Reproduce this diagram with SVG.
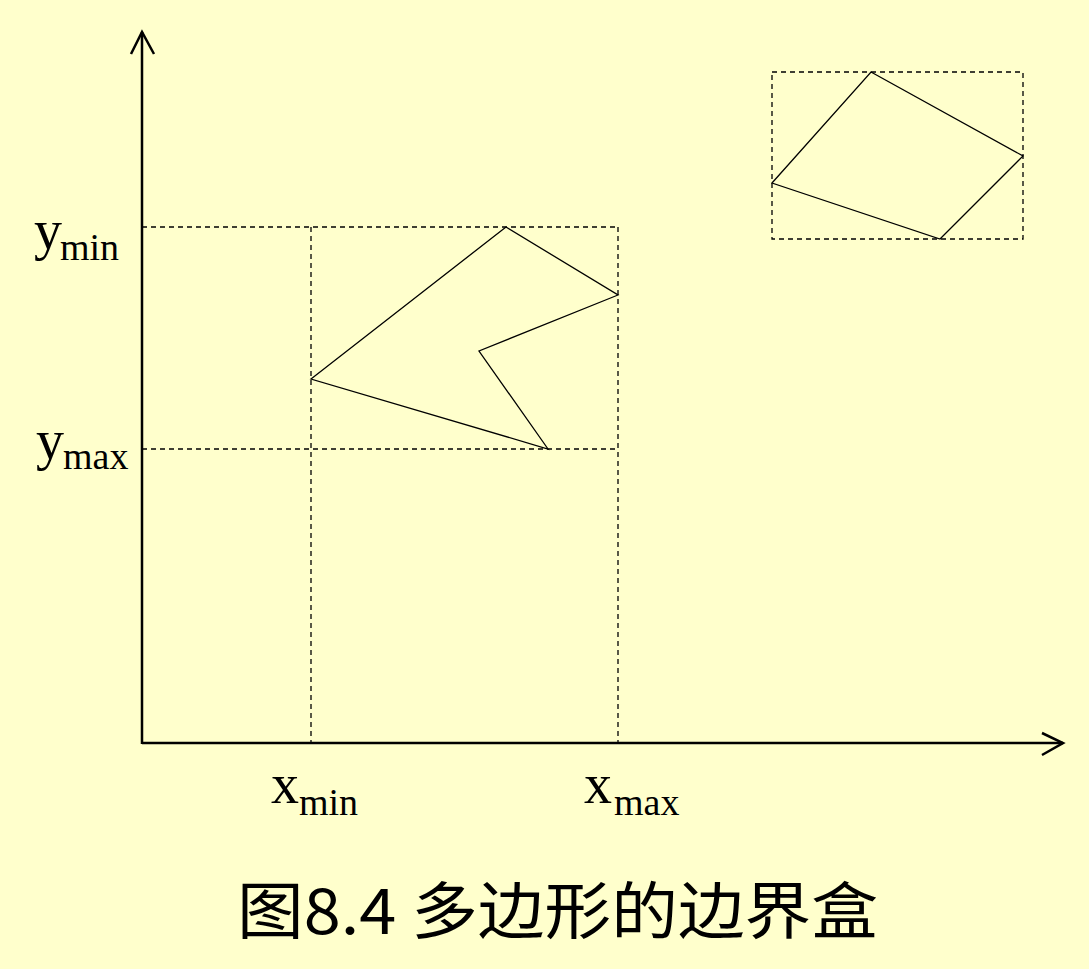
<svg xmlns="http://www.w3.org/2000/svg" width="1089" height="969" viewBox="0 0 1089 969">
<style>
.ax{stroke:#000;stroke-width:2.5;fill:none}
.dash{stroke:#000;stroke-width:1.3;stroke-dasharray:5 4;fill:none}
.poly{stroke:#000;stroke-width:1.3;fill:none}
.lbl{font-family:"Liberation Serif",serif;fill:#000}
.big{font-size:56px}
.sub{font-size:38px}
.title{font-family:"Noto Sans CJK SC",sans-serif;font-size:62px;fill:#000}
</style>
<rect width="1089" height="969" fill="#FFFFCC"/>
<g id="connectors">
<line class="ax" x1="142" y1="744" x2="142" y2="32"/>
<polyline class="ax" points="131,54 142,32 154,54"/>
<line class="ax" x1="142" y1="743" x2="1063" y2="743"/>
<polyline class="ax" points="1042,733 1063,743 1042,755"/>
</g>
<g id="bbox1">
<line class="dash" x1="142" y1="227" x2="618" y2="227"/>
<line class="dash" x1="142" y1="449" x2="618" y2="449"/>
<line class="dash" x1="311" y1="227" x2="311" y2="743"/>
<line class="dash" x1="618" y1="227" x2="618" y2="743"/>
</g>
<g id="polygon1">
<polygon class="poly" points="311,379 506,227 618,295 479,351 548,449"/>
</g>
<g id="bbox2">
<rect class="dash" x="772" y="72" width="251" height="167"/>
</g>
<g id="polygon2">
<polygon class="poly" points="772,183 871,72 1023,156 940,239"/>
</g>
<g id="labels">
<text class="lbl" x="34" y="249"><tspan class="big">y</tspan><tspan class="sub" x="60" y="260">min</tspan></text>
<text class="lbl" x="36" y="459"><tspan class="big">y</tspan><tspan class="sub" x="63" y="469">max</tspan></text>
<text class="lbl" x="271" y="803"><tspan class="big">x</tspan><tspan class="sub" x="299" y="815">min</tspan></text>
<text class="lbl" x="584" y="803"><tspan class="big">x</tspan><tspan class="sub" x="614" y="815">max</tspan></text>
</g>
<g id="title">
<text class="title" x="237" y="934" textLength="641" lengthAdjust="spacingAndGlyphs">图8.4 多边形的边界盒</text>
</g>
</svg>
